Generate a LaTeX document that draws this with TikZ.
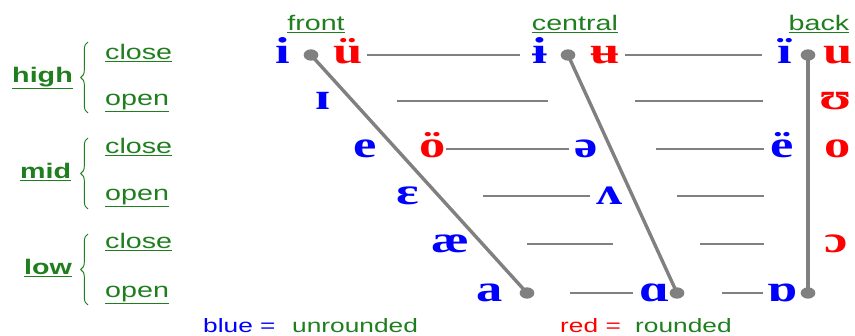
\documentclass[tikz,border=0pt]{standalone}
\usepackage{fontspec}
\setmainfont{Liberation Sans}[FakeStretch=1.36]
\newfontfamily\ipafont{Liberation Serif Bold}[FakeStretch=1.4]
\usepackage{xcolor}
\usetikzlibrary{shapes.geometric, decorations.pathreplacing}
\definecolor{IpaBlue}{HTML}{0000FF}
\definecolor{IpaRed}{HTML}{FF0000}
\definecolor{LabelGreen}{HTML}{1F7F1F}
\definecolor{LineGray}{HTML}{808080}
\tikzset{
    % Vowel symbols
    vowelunr/.style={
        font=\ipafont\fontsize{32}{36}\selectfont,
        text=IpaBlue,
        anchor=base,
        inner sep=0pt
    },
    vowelrnd/.style={
        vowelunr,
        text=IpaRed
    },
    % Labels
    rowlabel/.style={
        font=\fontsize{18}{20}\selectfont,
        text=LabelGreen,
        anchor=base west,
        inner sep=0pt
    },
    heightlabel/.style={
        rowlabel,
        font=\fontsize{18}{20}\selectfont\bfseries
    },
    collabel/.style={
        rowlabel,
        anchor=base
    },
    legendlabel/.style={
        rowlabel,
        font=\fontsize{16.5}{18}\selectfont
    },
    % Lines
    gridline/.style={
        draw=LineGray,
        line width=0.9pt
    },
    tongueline/.style={
        draw=LineGray,
        line width=2.9pt
    },
    enddot/.style={
        ellipse,
        fill=LineGray,
        inner sep=0pt,
        minimum width=0.44cm,
        minimum height=0.34cm
    },
    heightbrace/.style={
        draw=LabelGreen,
        line width=0.8pt,
        decorate,
        decoration={brace, amplitude=0.22cm}
    }
}
\begin{document}
\begin{tikzpicture}[x=0.03cm, y=-0.03cm]
    \useasboundingbox (0,0) rectangle (855,336);

    % Column headers
    \node[collabel] (front) at (316,30) {\underline{front}};
    \node[collabel] (central) at (575,30) {\underline{central}};
    \node[collabel] (back) at (819,30) {\underline{back}};

    % Height labels and braces
    \node[heightlabel] (high) at (12,82) {\underline{high}};
    \node[heightlabel] (mid) at (20,178) {\underline{mid}};
    \node[heightlabel] (low) at (24,274) {\underline{low}};
    \foreach \name/\top in {hb/42, mb/138, lb/234} {
        \coordinate (\name-t) at (88,\top);
        \coordinate (\name-b) at (88,\top+71);
        \draw[heightbrace] (\name-b) -- (\name-t);
    }
    \foreach \y/\n in {55/1, 149/3, 244/5} {
        \node[rowlabel] (close\n) at (105,\y+4) {\underline{close}};
    }
    \foreach \y/\n in {101/2, 196/4, 293/6} {
        \node[rowlabel] (open\n) at (105,\y+4) {\underline{open}};
    }

    % Vowels: high
    \node[vowelunr] (i) at (283,63) {i};
    \node[vowelrnd] (y) at (348,63) {ü};
    \node[vowelunr] (ibar) at (540,63) {ɨ};
    \node[vowelrnd] (ubar) at (605,63) {ʉ};
    \node[vowelunr] (iuml) at (785,63) {ï};
    \node[vowelrnd] (u) at (838,63) {u};
    \node[vowelunr] (smallI) at (323,109) {ɪ};
    \node[vowelrnd] (upsilon) at (836,109) {ʊ};

    % Vowels: mid
    \node[vowelunr] (e) at (365,157) {e};
    \node[vowelrnd] (oe) at (433,157) {ö};
    \node[vowelunr] (schwa) at (586,157) {ə};
    \node[vowelunr] (euml) at (782,157) {ë};
    \node[vowelrnd] (o) at (838,157) {o};
    \node[vowelunr] (epsilon) at (408,204) {ɛ};
    \node[vowelunr] (wedge) at (610,204) {ʌ};

    % Vowels: low
    \node[vowelunr] (ash) at (450,252) {æ};
    \node[vowelrnd] (openo) at (836,252) {ɔ};
    \node[vowelunr] (a) at (490,301) {a};
    \node[vowelunr] (alpha) at (655,301) {ɑ};
    \node[vowelunr] (turnedalpha) at (783,301) {ɒ};

    % Grid lines
    \foreach \a/\b/\y [count=\k] in {367/520/55, 625/762/55, 397/548/101, 635/763/101,
            446/569/149, 656/764/149, 483/590/196, 677/764/196,
            527/613/244, 700/764/244, 570/633/293, 722/763/293} {
        \coordinate (g\k-l) at (\a,\y);
        \coordinate (g\k-r) at (\b,\y);
        \draw[gridline] (g\k-l) -- (g\k-r);
    }

    % Tongue lines
    \node[enddot] (dfront) at (311,55) {};
    \node[enddot] (dfrontlow) at (527,293) {};
    \node[enddot] (dcentral) at (568,55) {};
    \node[enddot] (dcentrallow) at (677,293) {};
    \node[enddot] (dback) at (808,55) {};
    \node[enddot] (dbacklow) at (808,293) {};
    \draw[tongueline] (dfront.center) -- (dfrontlow.center);
    \draw[tongueline] (dcentral.center) -- (dcentrallow.center);
    \draw[tongueline] (dback.center) -- (dbacklow.center);

    % Legend
    \node[legendlabel, text=IpaBlue] (legblue) at (203,332) {blue =};
    \node[legendlabel] (legunr) at (292,332) {unrounded};
    \node[legendlabel, text=IpaRed] (legred) at (560,332) {red =};
    \node[legendlabel] (legrnd) at (635,332) {rounded};
\end{tikzpicture}
\end{document}
